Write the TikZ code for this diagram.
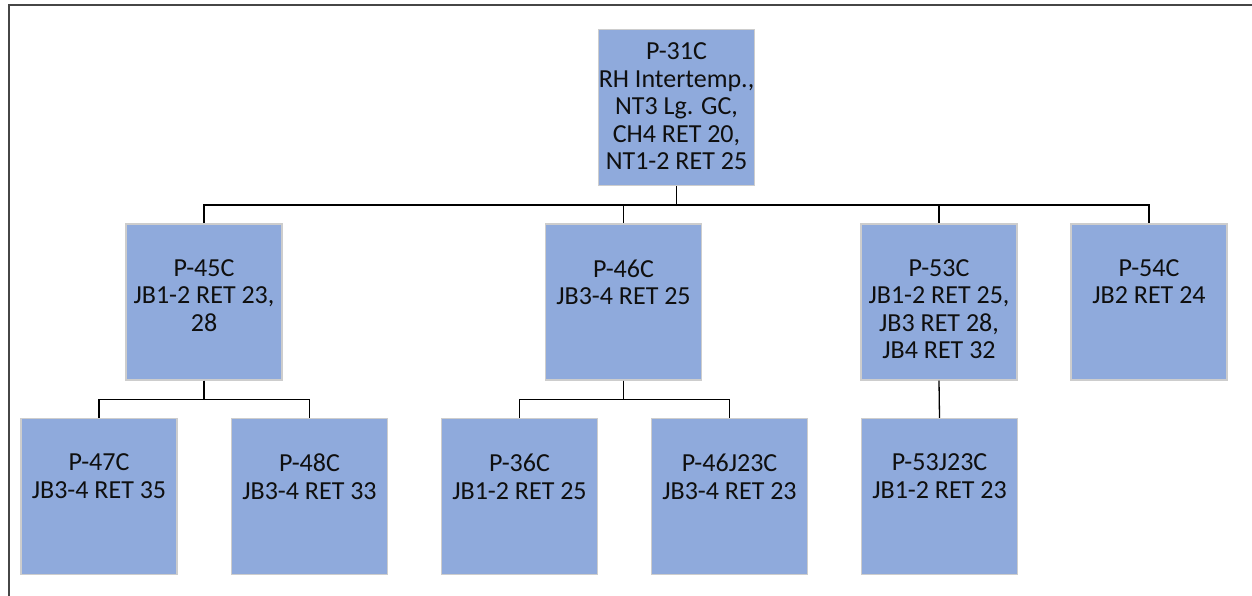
\documentclass[tikz,border=0pt]{standalone}
\usepackage{fontspec}
\setmainfont{Carlito}
\definecolor{boxfill}{RGB}{143,170,220}
\definecolor{boxedge}{RGB}{205,205,205}
\definecolor{txtcol}{RGB}{15,15,15}
\definecolor{framecol}{RGB}{70,70,70}
\tikzset{
  orgbox/.style={rectangle, fill=boxfill, draw=boxedge, line width=1.2pt, minimum width=156pt, minimum height=156pt, inner sep=0pt},
  orgtxt/.style={align=center, inner sep=0pt, anchor=north, text=txtcol, font=\fontsize{26}{27.5}\selectfont},
  conn/.style={draw=black, line width=1.3pt},
  framel/.style={draw=framecol, line width=1.6pt}
}
\begin{document}
\begin{tikzpicture}[x=1pt,y=-1pt]
\useasboundingbox (0,0) rectangle (1252,596);
\coordinate (f1) at (1252,5);
\coordinate (f2) at (9,5);
\coordinate (f3) at (9,596);
\draw[framel] (f1) -- (f2) -- (f3);
% boxes
\node[orgbox] (p31) at (676.5,107.5) {};
\node[orgbox] (p45) at (204,302) {};
\node[orgbox] (p46) at (623.5,302) {};
\node[orgbox] (p53) at (939,302) {};
\node[orgbox] (p54) at (1149,302) {};
\node[orgbox] (p47) at (99,496.5) {};
\node[orgbox] (p48) at (309.5,496.5) {};
\node[orgbox] (p36) at (519.5,496.5) {};
\node[orgbox] (p46j) at (729.5,496.5) {};
\node[orgbox] (p53j) at (939.5,496.5) {};
% texts
\node[orgtxt] (t31) at ([yshift=-14pt]p31.north) {P-31C\\RH Intertemp.,\\NT3 Lg. GC,\\CH4 RET 20,\\NT1-2 RET 25};
\node[orgtxt] (t45) at ([yshift=-36pt]p45.north) {P-45C\\JB1-2 RET 23,\\28};
\node[orgtxt] (t46) at ([yshift=-36pt]p46.north) {P-46C\\JB3-4 RET 25};
\node[orgtxt] (t53) at ([yshift=-36pt]p53.north) {P-53C\\JB1-2 RET 25,\\JB3 RET 28,\\JB4 RET 32};
\node[orgtxt] (t54) at ([yshift=-36pt]p54.north) {P-54C\\JB2 RET 24};
\node[orgtxt] (t47) at ([yshift=-36pt]p47.north) {P-47C\\JB3-4 RET 35};
\node[orgtxt] (t48) at ([yshift=-36pt]p48.north) {P-48C\\JB3-4 RET 33};
\node[orgtxt] (t36) at ([yshift=-36pt]p36.north) {P-36C\\JB1-2 RET 25};
\node[orgtxt] (t46j) at ([yshift=-36pt]p46j.north) {P-46J23C\\JB3-4 RET 23};
\node[orgtxt] (t53j) at ([yshift=-36pt]p53j.north) {P-53J23C\\JB1-2 RET 23};
% connectors
\foreach \c in {p45,p46,p53,p54} {
  \draw[conn] (p31.south) -- ++(0,19) -| (\c.north);
}
\foreach \c in {p47,p48} {
  \draw[conn] (p45.south) -- ++(0,19) -| (\c.north);
}
\foreach \c in {p36,p46j} {
  \draw[conn] (p46.south) -- ++(0,19) -| (\c.north);
}
\draw[conn] (p53.south) -- (p53j.north);
\end{tikzpicture}
\end{document}
